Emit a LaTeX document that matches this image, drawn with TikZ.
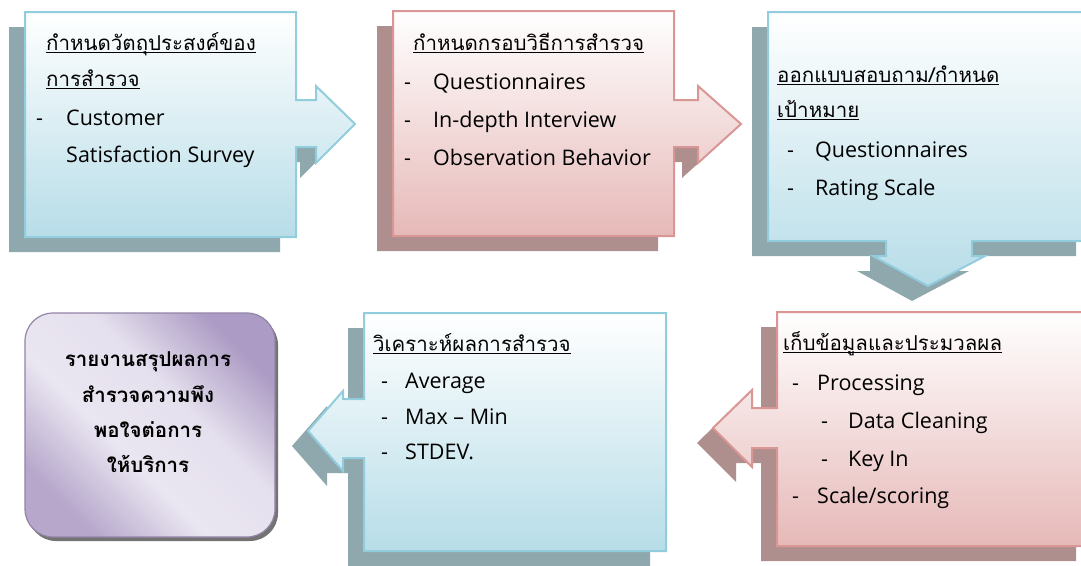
\documentclass[tikz,border=0pt]{standalone}
\usepackage{fontspec}
\setmainfont{Open Sans}
\newfontfamily\thai[Script=Thai]{Loma}
\definecolor{BL}{RGB}{146,205,221}
\definecolor{BF}{RGB}{183,221,232}
\definecolor{BS}{RGB}{143,168,173}
\definecolor{PL}{RGB}{217,150,148}
\definecolor{PF}{RGB}{230,185,184}
\definecolor{PS}{RGB}{175,143,142}
\definecolor{V}{RGB}{172,155,196}
\definecolor{VL}{RGB}{234,230,241}
\pgfdeclarehorizontalshading{purpshade}{100bp}{color(0bp)=(V!88!white); color(25bp)=(V!88!white); color(42bp)=(VL); color(58bp)=(VL!92!V); color(75bp)=(V); color(100bp)=(V)}
\newcommand{\ulthai}[1]{\setbox0\hbox{\thai\fontsize{20.5}{24}\selectfont #1}\rlap{\rule[-2.6pt]{\wd0}{1pt}}\box0}
\newcommand{\itm}[2]{\makebox[#1][l]{-}#2}
\def\boxA{(25,12) -- (296,12) -- (296,100) -- (316,100) -- (316,86) -- (355,124) -- (316,163) -- (316,147) -- (296,147) -- (296,237) -- (25,237) -- cycle}
\def\boxB{(393,11) -- (674,11) -- (674,100) -- (698,100) -- (698,86) -- (741,124) -- (698,163) -- (698,147) -- (674,147) -- (674,236) -- (393,236) -- cycle}
\def\boxC{(768,12) -- (1092,12) -- (1092,241) -- (972,241) -- (972,256) -- (985,256) -- (928,286) -- (873,256) -- (886,256) -- (886,241) -- (768,241) -- cycle}
\def\boxD{(777,312) -- (1092,312) -- (1092,546) -- (777,546) -- (777,448) -- (752,448) -- (752,467) -- (713,428) -- (752,390) -- (752,408) -- (777,408) -- cycle}
\def\boxE{(364,313) -- (666,313) -- (666,551) -- (364,551) -- (364,458) -- (343,458) -- (343,471) -- (308,431) -- (343,391) -- (343,399) -- (364,399) -- cycle}
\tikzset{
  bluebox/.style={draw=BL, line width=2pt, top color=white, bottom color=BF},
  pinkbox/.style={draw=PL, line width=2pt, top color=white, bottom color=PF},
  blueshadow/.style={fill=BS, shift={(-16,15)}},
  pinkshadow/.style={fill=PS, shift={(-16,15)}},
  txt/.style={anchor=base west, inner sep=0pt, font=\fontsize{21.5}{25}\selectfont},
  ctxt/.style={anchor=base, inner sep=0pt, font=\thai\bfseries\fontsize{20.5}{24}\selectfont}
}

\begin{document}
\begin{tikzpicture}[x=1pt, y=-1pt]
  \useasboundingbox (0,0) rectangle (1081,565);
  \clip (0,0) rectangle (1081,565);

  \fill[blueshadow] \boxA;
  \path[bluebox] \boxA;
  \node[txt] (h1a) at (46,50) {\ulthai{กำหนดวัตถุประสงค์ของ}};
  \node[txt] (h1b) at (46,86) {\ulthai{การสำรวจ}};
  \node[txt] (i1a) at (36,125) {\itm{30pt}{Customer}};
  \node[txt] (i1b) at (66,162) {Satisfaction Survey};

  \fill[pinkshadow] \boxB;
  \path[pinkbox] \boxB;
  \node[txt] (h2) at (413,50) {\ulthai{กำหนดกรอบวิธีการสำรวจ}};
  \node[txt] (i2a) at (404,89) {\itm{29pt}{Questionnaires}};
  \node[txt] (i2b) at (404,127) {\itm{29pt}{In-depth Interview}};
  \node[txt] (i2c) at (404,165) {\itm{29pt}{Observation Behavior}};

  \fill[blueshadow] \boxC;
  \path[bluebox] \boxC;
  \node[txt] (h3a) at (777,82) {\ulthai{ออกแบบสอบถาม/กำหนด}};
  \node[txt] (h3b) at (777,117) {\ulthai{เป้าหมาย}};
  \node[txt] (i3a) at (787,157) {\itm{28pt}{Questionnaires}};
  \node[txt] (i3b) at (787,195) {\itm{28pt}{Rating Scale}};

  \fill[pinkshadow] \boxD;
  \path[pinkbox] \boxD;
  \node[txt] (h4) at (783,350) {\ulthai{เก็บข้อมูลและประมวลผล}};
  \node[txt] (i4a) at (792,390) {\itm{25pt}{Processing}};
  \node[txt] (i4b) at (821,428) {\itm{27pt}{Data Cleaning}};
  \node[txt] (i4c) at (821,466) {\itm{27pt}{Key In}};
  \node[txt] (i4d) at (792,503) {\itm{25pt}{Scale/scoring}};

  \fill[blueshadow] \boxE;
  \path[bluebox] \boxE;
  \node[txt] (h5) at (373,351) {\ulthai{วิเคราะห์ผลการสำรวจ}};
  \node[txt] (i5a) at (381,388) {\itm{24pt}{Average}};
  \node[txt] (i5b) at (381,424) {\itm{24pt}{Max – Min}};
  \node[txt] (i5c) at (381,459) {\itm{24pt}{STDEV.}};

  \fill[black!55, rounded corners=28] (28,317) rectangle (278,541);
  \path[draw=V!85!black, line width=1.2pt, rounded corners=28, shading=purpshade, shading angle=45] (25,313) rectangle (275,537);
  \node[ctxt] (r1) at (148,366) {รายงานสรุปผลการ};
  \node[ctxt] (r2) at (148,402) {สำรวจความพึง};
  \node[ctxt] (r3) at (148,437) {พอใจต่อการ};
  \node[ctxt] (r4) at (148,472) {ให้บริการ};
\end{tikzpicture}
\end{document}
